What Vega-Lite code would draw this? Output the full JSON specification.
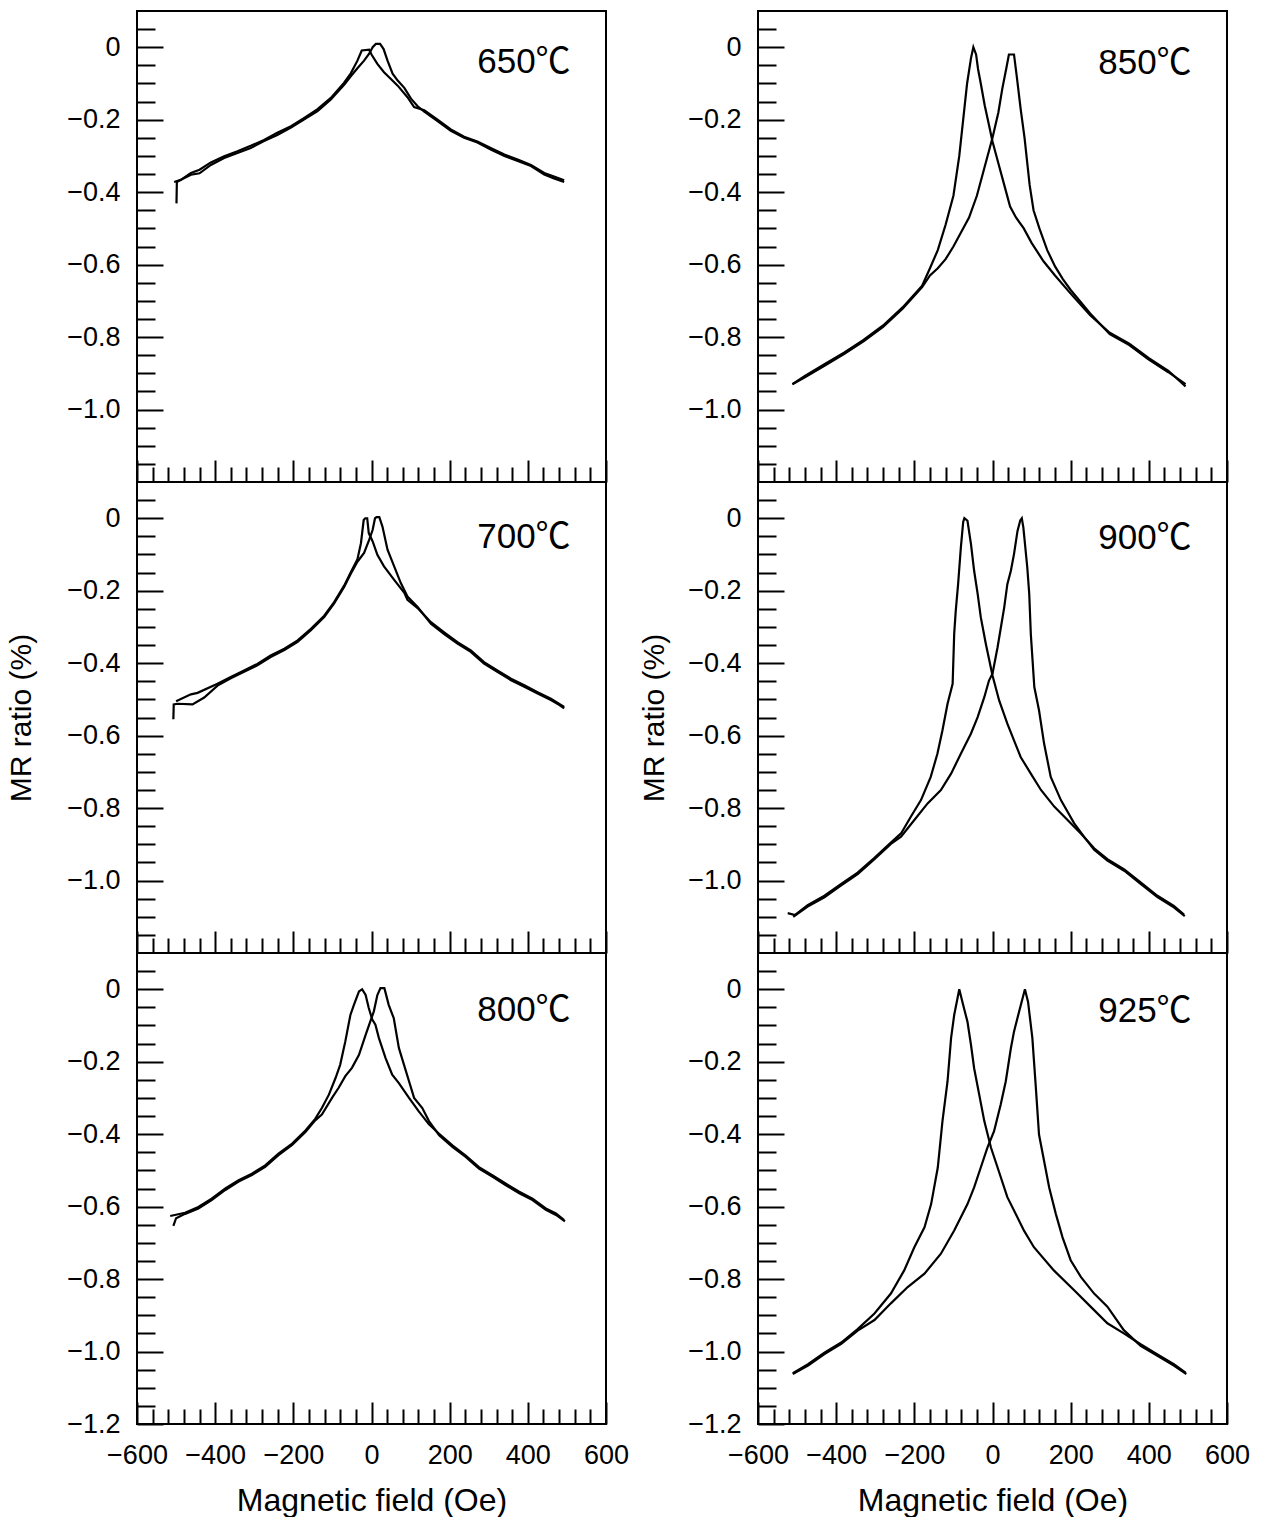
{
"$schema": "https://vega.github.io/schema/vega-lite/v6.json",
"background": "white",
"padding": {"left": 5, "top": 10, "right": 0, "bottom": 0},
"config": {
 "view": {"stroke": "black", "strokeWidth": 2},
 "axis": {"domain": false, "grid": false, "tickColor": "black", "tickWidth": 2, "labelColor": "black", "labelFont": "Liberation Sans", "labelFontSize": 27, "titleFont": "Liberation Sans", "titleFontSize": 30, "titleFontWeight": "normal", "titleColor": "black", "labelOverlap": false, "labelFlush": false, "labelBound": false}
},
"datasets": {
 "d650": [
  {"b":"A","H":-505,"MR":-0.372},{"b":"A","H":-488,"MR":-0.366},{"b":"A","H":-462,"MR":-0.347},{"b":"A","H":-440,"MR":-0.338},{"b":"A","H":-411,"MR":-0.318},{"b":"A","H":-377,"MR":-0.301},{"b":"A","H":-343,"MR":-0.287},{"b":"A","H":-309,"MR":-0.272},{"b":"A","H":-275,"MR":-0.256},{"b":"A","H":-241,"MR":-0.236},{"b":"A","H":-206,"MR":-0.218},{"b":"A","H":-172,"MR":-0.195},{"b":"A","H":-138,"MR":-0.171},{"b":"A","H":-104,"MR":-0.140},{"b":"A","H":-70,"MR":-0.098},{"b":"A","H":-53,"MR":-0.072},{"b":"A","H":-36,"MR":-0.037},{"b":"A","H":-25,"MR":-0.009},{"b":"A","H":-6,"MR":-0.007},{"b":"A","H":0,"MR":-0.020},{"b":"A","H":15,"MR":-0.046},{"b":"A","H":32,"MR":-0.069},{"b":"A","H":49,"MR":-0.087},{"b":"A","H":67,"MR":-0.106},{"b":"A","H":92,"MR":-0.138},{"b":"A","H":109,"MR":-0.165},{"b":"A","H":135,"MR":-0.174},{"b":"A","H":169,"MR":-0.200},{"b":"A","H":203,"MR":-0.227},{"b":"A","H":237,"MR":-0.247},{"b":"A","H":271,"MR":-0.260},{"b":"A","H":305,"MR":-0.278},{"b":"A","H":340,"MR":-0.296},{"b":"A","H":374,"MR":-0.310},{"b":"A","H":408,"MR":-0.325},{"b":"A","H":442,"MR":-0.347},{"b":"A","H":467,"MR":-0.357},{"b":"A","H":493,"MR":-0.367},
  {"b":"B","H":-499,"MR":-0.431},{"b":"B","H":-498,"MR":-0.372},{"b":"B","H":-480,"MR":-0.362},{"b":"B","H":-462,"MR":-0.352},{"b":"B","H":-440,"MR":-0.348},{"b":"B","H":-411,"MR":-0.325},{"b":"B","H":-377,"MR":-0.306},{"b":"B","H":-343,"MR":-0.292},{"b":"B","H":-309,"MR":-0.278},{"b":"B","H":-275,"MR":-0.259},{"b":"B","H":-241,"MR":-0.242},{"b":"B","H":-206,"MR":-0.222},{"b":"B","H":-172,"MR":-0.199},{"b":"B","H":-138,"MR":-0.176},{"b":"B","H":-104,"MR":-0.144},{"b":"B","H":-70,"MR":-0.104},{"b":"B","H":-53,"MR":-0.080},{"b":"B","H":-36,"MR":-0.058},{"b":"B","H":-19,"MR":-0.037},{"b":"B","H":-6,"MR":-0.018},{"b":"B","H":3,"MR":0.000},{"b":"B","H":11,"MR":0.009},{"b":"B","H":22,"MR":0.009},{"b":"B","H":31,"MR":-0.005},{"b":"B","H":41,"MR":-0.037},{"b":"B","H":54,"MR":-0.073},{"b":"B","H":67,"MR":-0.092},{"b":"B","H":84,"MR":-0.112},{"b":"B","H":101,"MR":-0.142},{"b":"B","H":118,"MR":-0.163},{"b":"B","H":135,"MR":-0.178},{"b":"B","H":169,"MR":-0.204},{"b":"B","H":203,"MR":-0.231},{"b":"B","H":237,"MR":-0.250},{"b":"B","H":271,"MR":-0.263},{"b":"B","H":305,"MR":-0.282},{"b":"B","H":340,"MR":-0.300},{"b":"B","H":374,"MR":-0.314},{"b":"B","H":408,"MR":-0.328},{"b":"B","H":442,"MR":-0.351},{"b":"B","H":467,"MR":-0.362},{"b":"B","H":493,"MR":-0.372}
 ],
 "d700": [
  {"b":"A","H":-500,"MR":-0.505},{"b":"A","H":-462,"MR":-0.486},{"b":"A","H":-445,"MR":-0.482},{"b":"A","H":-394,"MR":-0.457},{"b":"A","H":-360,"MR":-0.438},{"b":"A","H":-326,"MR":-0.420},{"b":"A","H":-292,"MR":-0.402},{"b":"A","H":-258,"MR":-0.379},{"b":"A","H":-223,"MR":-0.360},{"b":"A","H":-189,"MR":-0.337},{"b":"A","H":-155,"MR":-0.305},{"b":"A","H":-121,"MR":-0.269},{"b":"A","H":-96,"MR":-0.232},{"b":"A","H":-70,"MR":-0.186},{"b":"A","H":-53,"MR":-0.149},{"b":"A","H":-36,"MR":-0.113},{"b":"A","H":-27,"MR":-0.069},{"b":"A","H":-20,"MR":-0.005},{"b":"A","H":-16,"MR":0.000},{"b":"A","H":-11,"MR":0.000},{"b":"A","H":-7,"MR":-0.041},{"b":"A","H":3,"MR":-0.064},{"b":"A","H":15,"MR":-0.101},{"b":"A","H":32,"MR":-0.133},{"b":"A","H":58,"MR":-0.170},{"b":"A","H":84,"MR":-0.206},{"b":"A","H":92,"MR":-0.225},{"b":"A","H":118,"MR":-0.248},{"b":"A","H":152,"MR":-0.287},{"b":"A","H":186,"MR":-0.315},{"b":"A","H":220,"MR":-0.342},{"b":"A","H":254,"MR":-0.365},{"b":"A","H":288,"MR":-0.397},{"b":"A","H":322,"MR":-0.420},{"b":"A","H":357,"MR":-0.443},{"b":"A","H":391,"MR":-0.461},{"b":"A","H":425,"MR":-0.480},{"b":"A","H":459,"MR":-0.498},{"b":"A","H":493,"MR":-0.521},
  {"b":"B","H":-507,"MR":-0.555},{"b":"B","H":-506,"MR":-0.514},{"b":"B","H":-496,"MR":-0.512},{"b":"B","H":-458,"MR":-0.514},{"b":"B","H":-428,"MR":-0.495},{"b":"B","H":-394,"MR":-0.462},{"b":"B","H":-360,"MR":-0.442},{"b":"B","H":-326,"MR":-0.424},{"b":"B","H":-292,"MR":-0.406},{"b":"B","H":-258,"MR":-0.383},{"b":"B","H":-223,"MR":-0.364},{"b":"B","H":-189,"MR":-0.341},{"b":"B","H":-155,"MR":-0.309},{"b":"B","H":-121,"MR":-0.273},{"b":"B","H":-96,"MR":-0.236},{"b":"B","H":-70,"MR":-0.190},{"b":"B","H":-53,"MR":-0.153},{"b":"B","H":-36,"MR":-0.120},{"b":"B","H":-19,"MR":-0.096},{"b":"B","H":-6,"MR":-0.060},{"b":"B","H":3,"MR":-0.032},{"b":"B","H":9,"MR":0.000},{"b":"B","H":13,"MR":0.003},{"b":"B","H":20,"MR":0.003},{"b":"B","H":28,"MR":-0.023},{"b":"B","H":41,"MR":-0.087},{"b":"B","H":58,"MR":-0.133},{"b":"B","H":75,"MR":-0.179},{"b":"B","H":92,"MR":-0.216},{"b":"B","H":118,"MR":-0.245},{"b":"B","H":152,"MR":-0.291},{"b":"B","H":186,"MR":-0.320},{"b":"B","H":220,"MR":-0.346},{"b":"B","H":254,"MR":-0.369},{"b":"B","H":288,"MR":-0.401},{"b":"B","H":322,"MR":-0.424},{"b":"B","H":357,"MR":-0.447},{"b":"B","H":391,"MR":-0.465},{"b":"B","H":425,"MR":-0.484},{"b":"B","H":459,"MR":-0.502},{"b":"B","H":480,"MR":-0.515},{"b":"B","H":493,"MR":-0.525}
 ],
 "d800": [
  {"b":"A","H":-515,"MR":-0.626},{"b":"A","H":-477,"MR":-0.617},{"b":"A","H":-443,"MR":-0.601},{"b":"A","H":-409,"MR":-0.578},{"b":"A","H":-374,"MR":-0.550},{"b":"A","H":-340,"MR":-0.527},{"b":"A","H":-306,"MR":-0.509},{"b":"A","H":-272,"MR":-0.486},{"b":"A","H":-238,"MR":-0.454},{"b":"A","H":-203,"MR":-0.426},{"b":"A","H":-169,"MR":-0.390},{"b":"A","H":-144,"MR":-0.358},{"b":"A","H":-127,"MR":-0.328},{"b":"A","H":-109,"MR":-0.291},{"b":"A","H":-92,"MR":-0.245},{"b":"A","H":-80,"MR":-0.208},{"b":"A","H":-67,"MR":-0.144},{"b":"A","H":-54,"MR":-0.071},{"b":"A","H":-45,"MR":-0.043},{"b":"A","H":-32,"MR":-0.006},{"b":"A","H":-24,"MR":0.000},{"b":"A","H":-15,"MR":-0.016},{"b":"A","H":-7,"MR":-0.052},{"b":"A","H":2,"MR":-0.084},{"b":"A","H":10,"MR":-0.098},{"b":"A","H":19,"MR":-0.135},{"b":"A","H":36,"MR":-0.190},{"b":"A","H":53,"MR":-0.236},{"b":"A","H":70,"MR":-0.259},{"b":"A","H":96,"MR":-0.300},{"b":"A","H":121,"MR":-0.337},{"b":"A","H":147,"MR":-0.373},{"b":"A","H":173,"MR":-0.399},{"b":"A","H":207,"MR":-0.431},{"b":"A","H":241,"MR":-0.459},{"b":"A","H":275,"MR":-0.491},{"b":"A","H":310,"MR":-0.514},{"b":"A","H":344,"MR":-0.537},{"b":"A","H":378,"MR":-0.559},{"b":"A","H":412,"MR":-0.578},{"b":"A","H":446,"MR":-0.605},{"b":"A","H":472,"MR":-0.619},{"b":"A","H":493,"MR":-0.637},
  {"b":"B","H":-507,"MR":-0.653},{"b":"B","H":-500,"MR":-0.632},{"b":"B","H":-477,"MR":-0.620},{"b":"B","H":-443,"MR":-0.605},{"b":"B","H":-409,"MR":-0.582},{"b":"B","H":-374,"MR":-0.554},{"b":"B","H":-340,"MR":-0.531},{"b":"B","H":-306,"MR":-0.513},{"b":"B","H":-272,"MR":-0.490},{"b":"B","H":-238,"MR":-0.458},{"b":"B","H":-203,"MR":-0.430},{"b":"B","H":-169,"MR":-0.394},{"b":"B","H":-144,"MR":-0.362},{"b":"B","H":-127,"MR":-0.346},{"b":"B","H":-101,"MR":-0.300},{"b":"B","H":-84,"MR":-0.272},{"b":"B","H":-67,"MR":-0.240},{"b":"B","H":-50,"MR":-0.217},{"b":"B","H":-32,"MR":-0.181},{"b":"B","H":-15,"MR":-0.126},{"b":"B","H":-3,"MR":-0.089},{"b":"B","H":6,"MR":-0.061},{"b":"B","H":15,"MR":-0.016},{"b":"B","H":23,"MR":0.003},{"b":"B","H":33,"MR":0.003},{"b":"B","H":44,"MR":-0.043},{"b":"B","H":57,"MR":-0.080},{"b":"B","H":70,"MR":-0.162},{"b":"B","H":83,"MR":-0.208},{"b":"B","H":96,"MR":-0.254},{"b":"B","H":109,"MR":-0.300},{"b":"B","H":130,"MR":-0.328},{"b":"B","H":147,"MR":-0.364},{"b":"B","H":173,"MR":-0.403},{"b":"B","H":207,"MR":-0.435},{"b":"B","H":241,"MR":-0.463},{"b":"B","H":275,"MR":-0.495},{"b":"B","H":310,"MR":-0.518},{"b":"B","H":344,"MR":-0.541},{"b":"B","H":378,"MR":-0.563},{"b":"B","H":412,"MR":-0.582},{"b":"B","H":446,"MR":-0.609},{"b":"B","H":472,"MR":-0.623},{"b":"B","H":495,"MR":-0.641}
 ],
 "d850": [
  {"b":"A","H":-512,"MR":-0.930},{"b":"A","H":-480,"MR":-0.907},{"b":"A","H":-430,"MR":-0.875},{"b":"A","H":-380,"MR":-0.843},{"b":"A","H":-330,"MR":-0.808},{"b":"A","H":-280,"MR":-0.768},{"b":"A","H":-230,"MR":-0.718},{"b":"A","H":-180,"MR":-0.658},{"b":"A","H":-160,"MR":-0.610},{"b":"A","H":-140,"MR":-0.560},{"b":"A","H":-120,"MR":-0.490},{"b":"A","H":-100,"MR":-0.410},{"b":"A","H":-85,"MR":-0.300},{"b":"A","H":-75,"MR":-0.200},{"b":"A","H":-65,"MR":-0.100},{"b":"A","H":-55,"MR":-0.030},{"b":"A","H":-49,"MR":0.000},{"b":"A","H":-42,"MR":-0.020},{"b":"A","H":-37,"MR":-0.060},{"b":"A","H":-30,"MR":-0.100},{"b":"A","H":-20,"MR":-0.160},{"b":"A","H":-10,"MR":-0.210},{"b":"A","H":0,"MR":-0.260},{"b":"A","H":15,"MR":-0.320},{"b":"A","H":30,"MR":-0.380},{"b":"A","H":45,"MR":-0.440},{"b":"A","H":60,"MR":-0.470},{"b":"A","H":80,"MR":-0.500},{"b":"A","H":100,"MR":-0.540},{"b":"A","H":130,"MR":-0.590},{"b":"A","H":160,"MR":-0.630},{"b":"A","H":200,"MR":-0.680},{"b":"A","H":250,"MR":-0.740},{"b":"A","H":300,"MR":-0.788},{"b":"A","H":350,"MR":-0.818},{"b":"A","H":400,"MR":-0.858},{"b":"A","H":450,"MR":-0.893},{"b":"A","H":494,"MR":-0.936},
  {"b":"B","H":-512,"MR":-0.930},{"b":"B","H":-480,"MR":-0.911},{"b":"B","H":-430,"MR":-0.879},{"b":"B","H":-380,"MR":-0.847},{"b":"B","H":-330,"MR":-0.812},{"b":"B","H":-280,"MR":-0.772},{"b":"B","H":-230,"MR":-0.722},{"b":"B","H":-180,"MR":-0.662},{"b":"B","H":-160,"MR":-0.630},{"b":"B","H":-140,"MR":-0.610},{"b":"B","H":-120,"MR":-0.585},{"b":"B","H":-100,"MR":-0.550},{"b":"B","H":-80,"MR":-0.510},{"b":"B","H":-60,"MR":-0.470},{"b":"B","H":-40,"MR":-0.410},{"b":"B","H":-20,"MR":-0.330},{"b":"B","H":0,"MR":-0.250},{"b":"B","H":15,"MR":-0.180},{"b":"B","H":25,"MR":-0.115},{"b":"B","H":35,"MR":-0.060},{"b":"B","H":42,"MR":-0.020},{"b":"B","H":55,"MR":-0.020},{"b":"B","H":62,"MR":-0.080},{"b":"B","H":72,"MR":-0.170},{"b":"B","H":82,"MR":-0.250},{"b":"B","H":95,"MR":-0.380},{"b":"B","H":105,"MR":-0.450},{"b":"B","H":120,"MR":-0.500},{"b":"B","H":140,"MR":-0.560},{"b":"B","H":160,"MR":-0.605},{"b":"B","H":180,"MR":-0.640},{"b":"B","H":200,"MR":-0.670},{"b":"B","H":250,"MR":-0.735},{"b":"B","H":300,"MR":-0.792},{"b":"B","H":350,"MR":-0.822},{"b":"B","H":400,"MR":-0.862},{"b":"B","H":450,"MR":-0.897},{"b":"B","H":494,"MR":-0.930}
 ],
 "d900": [
  {"b":"A","H":-524,"MR":-1.090},{"b":"A","H":-505,"MR":-1.095},{"b":"A","H":-473,"MR":-1.068},{"b":"A","H":-430,"MR":-1.042},{"b":"A","H":-388,"MR":-1.010},{"b":"A","H":-345,"MR":-0.978},{"b":"A","H":-302,"MR":-0.937},{"b":"A","H":-260,"MR":-0.895},{"b":"A","H":-234,"MR":-0.870},{"b":"A","H":-209,"MR":-0.824},{"b":"A","H":-183,"MR":-0.778},{"b":"A","H":-158,"MR":-0.714},{"b":"A","H":-141,"MR":-0.650},{"b":"A","H":-128,"MR":-0.585},{"b":"A","H":-115,"MR":-0.512},{"b":"A","H":-102,"MR":-0.457},{"b":"A","H":-98,"MR":-0.319},{"b":"A","H":-94,"MR":-0.255},{"b":"A","H":-88,"MR":-0.182},{"b":"A","H":-81,"MR":-0.081},{"b":"A","H":-75,"MR":-0.010},{"b":"A","H":-72,"MR":0.000},{"b":"A","H":-64,"MR":-0.007},{"b":"A","H":-55,"MR":-0.072},{"b":"A","H":-47,"MR":-0.145},{"b":"A","H":-38,"MR":-0.209},{"b":"A","H":-30,"MR":-0.273},{"b":"A","H":-17,"MR":-0.347},{"b":"A","H":0,"MR":-0.434},{"b":"A","H":17,"MR":-0.503},{"b":"A","H":38,"MR":-0.567},{"b":"A","H":55,"MR":-0.613},{"b":"A","H":72,"MR":-0.659},{"b":"A","H":98,"MR":-0.705},{"b":"A","H":124,"MR":-0.750},{"b":"A","H":158,"MR":-0.796},{"b":"A","H":192,"MR":-0.833},{"b":"A","H":226,"MR":-0.870},{"b":"A","H":260,"MR":-0.911},{"b":"A","H":294,"MR":-0.941},{"b":"A","H":337,"MR":-0.969},{"b":"A","H":379,"MR":-1.005},{"b":"A","H":422,"MR":-1.042},{"b":"A","H":464,"MR":-1.070},{"b":"A","H":490,"MR":-1.094},
  {"b":"B","H":-510,"MR":-1.100},{"b":"B","H":-473,"MR":-1.072},{"b":"B","H":-430,"MR":-1.046},{"b":"B","H":-388,"MR":-1.014},{"b":"B","H":-345,"MR":-0.982},{"b":"B","H":-302,"MR":-0.941},{"b":"B","H":-260,"MR":-0.899},{"b":"B","H":-234,"MR":-0.879},{"b":"B","H":-200,"MR":-0.833},{"b":"B","H":-166,"MR":-0.787},{"b":"B","H":-132,"MR":-0.750},{"b":"B","H":-106,"MR":-0.705},{"b":"B","H":-81,"MR":-0.650},{"b":"B","H":-55,"MR":-0.594},{"b":"B","H":-38,"MR":-0.549},{"b":"B","H":-21,"MR":-0.494},{"b":"B","H":-9,"MR":-0.448},{"b":"B","H":0,"MR":-0.429},{"b":"B","H":13,"MR":-0.356},{"b":"B","H":30,"MR":-0.246},{"b":"B","H":38,"MR":-0.182},{"b":"B","H":47,"MR":-0.145},{"b":"B","H":55,"MR":-0.099},{"b":"B","H":64,"MR":-0.035},{"b":"B","H":71,"MR":-0.006},{"b":"B","H":75,"MR":0.000},{"b":"B","H":79,"MR":-0.026},{"b":"B","H":89,"MR":-0.136},{"b":"B","H":94,"MR":-0.209},{"b":"B","H":98,"MR":-0.319},{"b":"B","H":107,"MR":-0.466},{"b":"B","H":119,"MR":-0.530},{"b":"B","H":132,"MR":-0.622},{"b":"B","H":149,"MR":-0.714},{"b":"B","H":175,"MR":-0.778},{"b":"B","H":209,"MR":-0.842},{"b":"B","H":234,"MR":-0.879},{"b":"B","H":260,"MR":-0.915},{"b":"B","H":294,"MR":-0.945},{"b":"B","H":337,"MR":-0.973},{"b":"B","H":379,"MR":-1.009},{"b":"B","H":422,"MR":-1.046},{"b":"B","H":464,"MR":-1.074},{"b":"B","H":492,"MR":-1.098}
 ],
 "d925": [
  {"b":"A","H":-511,"MR":-1.060},{"b":"A","H":-472,"MR":-1.035},{"b":"A","H":-430,"MR":-1.003},{"b":"A","H":-387,"MR":-0.975},{"b":"A","H":-345,"MR":-0.938},{"b":"A","H":-302,"MR":-0.895},{"b":"A","H":-260,"MR":-0.840},{"b":"A","H":-226,"MR":-0.776},{"b":"A","H":-200,"MR":-0.712},{"b":"A","H":-174,"MR":-0.657},{"b":"A","H":-157,"MR":-0.593},{"b":"A","H":-140,"MR":-0.492},{"b":"A","H":-128,"MR":-0.364},{"b":"A","H":-115,"MR":-0.254},{"b":"A","H":-106,"MR":-0.135},{"b":"A","H":-98,"MR":-0.071},{"b":"A","H":-85,"MR":0.000},{"b":"A","H":-77,"MR":-0.035},{"b":"A","H":-64,"MR":-0.090},{"b":"A","H":-55,"MR":-0.154},{"b":"A","H":-47,"MR":-0.218},{"b":"A","H":-34,"MR":-0.291},{"b":"A","H":-21,"MR":-0.364},{"b":"A","H":-4,"MR":-0.437},{"b":"A","H":13,"MR":-0.492},{"b":"A","H":38,"MR":-0.574},{"b":"A","H":81,"MR":-0.667},{"b":"A","H":106,"MR":-0.712},{"b":"A","H":157,"MR":-0.776},{"b":"A","H":209,"MR":-0.831},{"b":"A","H":251,"MR":-0.876},{"b":"A","H":294,"MR":-0.922},{"b":"A","H":336,"MR":-0.950},{"b":"A","H":379,"MR":-0.980},{"b":"A","H":421,"MR":-1.007},{"b":"A","H":464,"MR":-1.035},{"b":"A","H":494,"MR":-1.058},
  {"b":"B","H":-511,"MR":-1.062},{"b":"B","H":-472,"MR":-1.039},{"b":"B","H":-430,"MR":-1.007},{"b":"B","H":-387,"MR":-0.979},{"b":"B","H":-345,"MR":-0.942},{"b":"B","H":-302,"MR":-0.913},{"b":"B","H":-260,"MR":-0.867},{"b":"B","H":-217,"MR":-0.822},{"b":"B","H":-174,"MR":-0.785},{"b":"B","H":-132,"MR":-0.730},{"b":"B","H":-98,"MR":-0.666},{"b":"B","H":-64,"MR":-0.593},{"b":"B","H":-47,"MR":-0.547},{"b":"B","H":-30,"MR":-0.492},{"b":"B","H":-13,"MR":-0.437},{"b":"B","H":4,"MR":-0.392},{"b":"B","H":21,"MR":-0.318},{"b":"B","H":34,"MR":-0.254},{"b":"B","H":47,"MR":-0.163},{"b":"B","H":55,"MR":-0.117},{"b":"B","H":68,"MR":-0.062},{"b":"B","H":83,"MR":0.000},{"b":"B","H":91,"MR":-0.035},{"b":"B","H":102,"MR":-0.135},{"b":"B","H":111,"MR":-0.273},{"b":"B","H":119,"MR":-0.401},{"b":"B","H":132,"MR":-0.474},{"b":"B","H":145,"MR":-0.547},{"b":"B","H":162,"MR":-0.620},{"b":"B","H":179,"MR":-0.684},{"b":"B","H":200,"MR":-0.748},{"b":"B","H":226,"MR":-0.794},{"b":"B","H":260,"MR":-0.840},{"b":"B","H":294,"MR":-0.876},{"b":"B","H":336,"MR":-0.941},{"b":"B","H":379,"MR":-0.984},{"b":"B","H":421,"MR":-1.011},{"b":"B","H":464,"MR":-1.039},{"b":"B","H":496,"MR":-1.062}
 ]
},
"concat": [
 {"width": 469, "height": 471, "layer": [
  {"data": {"name": "d650"}, "mark": {"type": "line", "color": "black", "strokeWidth": 2.2},
   "encoding": {
    "x": {"field": "H", "type": "quantitative", "scale": {"domain": [-600, 600], "nice": false, "zero": false}, "axis": {"title": null, "labels": false, "tickCount": 200, "values": [-600,-560,-520,-480,-440,-400,-360,-320,-280,-240,-200,-160,-120,-80,-40,0,40,80,120,160,200,240,280,320,360,400,440,480,520,560,600], "tickSize": {"condition": {"test": "datum.value % 200 === 0", "value": -22}, "value": -15}}},
    "y": {"field": "MR", "type": "quantitative", "scale": {"domain": [-1.2, 0.1], "nice": false, "zero": false}, "axis": {"title": null, "tickCount": 200, "values": [-1.15,-1.1,-1.05,-1,-0.95,-0.9,-0.85,-0.8,-0.75,-0.7,-0.65,-0.6,-0.55,-0.5,-0.45,-0.4,-0.35,-0.3,-0.25,-0.2,-0.15,-0.1,-0.05,0,0.05], "tickSize": {"condition": {"test": "abs(datum.value*5 - round(datum.value*5)) < 1e-6", "value": -26}, "value": -18}, "labelPadding": 43, "labelExpr": "abs(datum.value*5 - round(datum.value*5)) < 1e-6 ? (datum.value === 0 ? '0' : format(datum.value, '.1f')) : ''"}},
    "detail": {"field": "b", "type": "nominal"}}},
  {"data": {"values": [{"T": "650℃"}]}, "mark": {"type": "text", "fontSize": 35, "font": "Liberation Sans, Noto Sans CJK JP", "align": "center", "baseline": "alphabetic", "color": "black"},
   "encoding": {"x": {"datum": 390, "type": "quantitative"}, "y": {"datum": -0.07, "type": "quantitative"}, "text": {"field": "T"}}}
 ]},
 {"width": 469, "height": 471, "layer": [
  {"data": {"name": "d850"}, "mark": {"type": "line", "color": "black", "strokeWidth": 2.2},
   "encoding": {
    "x": {"field": "H", "type": "quantitative", "scale": {"domain": [-600, 600], "nice": false, "zero": false}, "axis": {"title": null, "labels": false, "tickCount": 200, "values": [-600,-560,-520,-480,-440,-400,-360,-320,-280,-240,-200,-160,-120,-80,-40,0,40,80,120,160,200,240,280,320,360,400,440,480,520,560,600], "tickSize": {"condition": {"test": "datum.value % 200 === 0", "value": -22}, "value": -15}}},
    "y": {"field": "MR", "type": "quantitative", "scale": {"domain": [-1.2, 0.1], "nice": false, "zero": false}, "axis": {"title": null, "tickCount": 200, "values": [-1.15,-1.1,-1.05,-1,-0.95,-0.9,-0.85,-0.8,-0.75,-0.7,-0.65,-0.6,-0.55,-0.5,-0.45,-0.4,-0.35,-0.3,-0.25,-0.2,-0.15,-0.1,-0.05,0,0.05], "tickSize": {"condition": {"test": "abs(datum.value*5 - round(datum.value*5)) < 1e-6", "value": -26}, "value": -18}, "labelPadding": 43, "labelExpr": "abs(datum.value*5 - round(datum.value*5)) < 1e-6 ? (datum.value === 0 ? '0' : format(datum.value, '.1f')) : ''"}},
    "detail": {"field": "b", "type": "nominal"}}},
  {"data": {"values": [{"T": "850℃"}]}, "mark": {"type": "text", "fontSize": 35, "font": "Liberation Sans, Noto Sans CJK JP", "align": "center", "baseline": "alphabetic", "color": "black"},
   "encoding": {"x": {"datum": 390, "type": "quantitative"}, "y": {"datum": -0.075, "type": "quantitative"}, "text": {"field": "T"}}}
 ]},
 {"width": 469, "height": 471, "layer": [
  {"data": {"name": "d700"}, "mark": {"type": "line", "color": "black", "strokeWidth": 2.2},
   "encoding": {
    "x": {"field": "H", "type": "quantitative", "scale": {"domain": [-600, 600], "nice": false, "zero": false}, "axis": {"title": null, "labels": false, "tickCount": 200, "values": [-600,-560,-520,-480,-440,-400,-360,-320,-280,-240,-200,-160,-120,-80,-40,0,40,80,120,160,200,240,280,320,360,400,440,480,520,560,600], "tickSize": {"condition": {"test": "datum.value % 200 === 0", "value": -22}, "value": -15}}},
    "y": {"field": "MR", "type": "quantitative", "scale": {"domain": [-1.2, 0.1], "nice": false, "zero": false}, "axis": {"title": "MR ratio (%)", "titlePadding": 30, "tickCount": 200, "values": [-1.15,-1.1,-1.05,-1,-0.95,-0.9,-0.85,-0.8,-0.75,-0.7,-0.65,-0.6,-0.55,-0.5,-0.45,-0.4,-0.35,-0.3,-0.25,-0.2,-0.15,-0.1,-0.05,0,0.05], "tickSize": {"condition": {"test": "abs(datum.value*5 - round(datum.value*5)) < 1e-6", "value": -26}, "value": -18}, "labelPadding": 43, "labelExpr": "abs(datum.value*5 - round(datum.value*5)) < 1e-6 ? (datum.value === 0 ? '0' : format(datum.value, '.1f')) : ''"}},
    "detail": {"field": "b", "type": "nominal"}}},
  {"data": {"values": [{"T": "700℃"}]}, "mark": {"type": "text", "fontSize": 35, "font": "Liberation Sans, Noto Sans CJK JP", "align": "center", "baseline": "alphabetic", "color": "black"},
   "encoding": {"x": {"datum": 390, "type": "quantitative"}, "y": {"datum": -0.083, "type": "quantitative"}, "text": {"field": "T"}}}
 ]},
 {"width": 469, "height": 471, "layer": [
  {"data": {"name": "d900"}, "mark": {"type": "line", "color": "black", "strokeWidth": 2.2},
   "encoding": {
    "x": {"field": "H", "type": "quantitative", "scale": {"domain": [-600, 600], "nice": false, "zero": false}, "axis": {"title": null, "labels": false, "tickCount": 200, "values": [-600,-560,-520,-480,-440,-400,-360,-320,-280,-240,-200,-160,-120,-80,-40,0,40,80,120,160,200,240,280,320,360,400,440,480,520,560,600], "tickSize": {"condition": {"test": "datum.value % 200 === 0", "value": -22}, "value": -15}}},
    "y": {"field": "MR", "type": "quantitative", "scale": {"domain": [-1.2, 0.1], "nice": false, "zero": false}, "axis": {"title": "MR ratio (%)", "titlePadding": 18, "tickCount": 200, "values": [-1.15,-1.1,-1.05,-1,-0.95,-0.9,-0.85,-0.8,-0.75,-0.7,-0.65,-0.6,-0.55,-0.5,-0.45,-0.4,-0.35,-0.3,-0.25,-0.2,-0.15,-0.1,-0.05,0,0.05], "tickSize": {"condition": {"test": "abs(datum.value*5 - round(datum.value*5)) < 1e-6", "value": -26}, "value": -18}, "labelPadding": 43, "labelExpr": "abs(datum.value*5 - round(datum.value*5)) < 1e-6 ? (datum.value === 0 ? '0' : format(datum.value, '.1f')) : ''"}},
    "detail": {"field": "b", "type": "nominal"}}},
  {"data": {"values": [{"T": "900℃"}]}, "mark": {"type": "text", "fontSize": 35, "font": "Liberation Sans, Noto Sans CJK JP", "align": "center", "baseline": "alphabetic", "color": "black"},
   "encoding": {"x": {"datum": 390, "type": "quantitative"}, "y": {"datum": -0.085, "type": "quantitative"}, "text": {"field": "T"}}}
 ]},
 {"width": 469, "height": 471, "layer": [
  {"data": {"name": "d800"}, "mark": {"type": "line", "color": "black", "strokeWidth": 2.2},
   "encoding": {
    "x": {"field": "H", "type": "quantitative", "scale": {"domain": [-600, 600], "nice": false, "zero": false}, "axis": {"title": "Magnetic field (Oe)", "titleFontSize": 32, "titlePadding": 10, "labelPadding": 40, "tickCount": 200, "labelExpr": "datum.value % 200 === 0 ? format(datum.value, 'd') : ''", "values": [-600,-560,-520,-480,-440,-400,-360,-320,-280,-240,-200,-160,-120,-80,-40,0,40,80,120,160,200,240,280,320,360,400,440,480,520,560,600], "tickSize": {"condition": {"test": "datum.value % 200 === 0", "value": -22}, "value": -15}}},
    "y": {"field": "MR", "type": "quantitative", "scale": {"domain": [-1.2, 0.1], "nice": false, "zero": false}, "axis": {"title": null, "tickCount": 200, "values": [-1.2,-1.15,-1.1,-1.05,-1,-0.95,-0.9,-0.85,-0.8,-0.75,-0.7,-0.65,-0.6,-0.55,-0.5,-0.45,-0.4,-0.35,-0.3,-0.25,-0.2,-0.15,-0.1,-0.05,0,0.05], "tickSize": {"condition": {"test": "abs(datum.value*5 - round(datum.value*5)) < 1e-6", "value": -26}, "value": -18}, "labelPadding": 43, "labelExpr": "abs(datum.value*5 - round(datum.value*5)) < 1e-6 ? (datum.value === 0 ? '0' : format(datum.value, '.1f')) : ''"}},
    "detail": {"field": "b", "type": "nominal"}}},
  {"data": {"values": [{"T": "800℃"}]}, "mark": {"type": "text", "fontSize": 35, "font": "Liberation Sans, Noto Sans CJK JP", "align": "center", "baseline": "alphabetic", "color": "black"},
   "encoding": {"x": {"datum": 390, "type": "quantitative"}, "y": {"datum": -0.087, "type": "quantitative"}, "text": {"field": "T"}}}
 ]},
 {"width": 469, "height": 471, "layer": [
  {"data": {"name": "d925"}, "mark": {"type": "line", "color": "black", "strokeWidth": 2.2},
   "encoding": {
    "x": {"field": "H", "type": "quantitative", "scale": {"domain": [-600, 600], "nice": false, "zero": false}, "axis": {"title": "Magnetic field (Oe)", "titleFontSize": 32, "titlePadding": 10, "labelPadding": 40, "tickCount": 200, "labelExpr": "datum.value % 200 === 0 ? format(datum.value, 'd') : ''", "values": [-600,-560,-520,-480,-440,-400,-360,-320,-280,-240,-200,-160,-120,-80,-40,0,40,80,120,160,200,240,280,320,360,400,440,480,520,560,600], "tickSize": {"condition": {"test": "datum.value % 200 === 0", "value": -22}, "value": -15}}},
    "y": {"field": "MR", "type": "quantitative", "scale": {"domain": [-1.2, 0.1], "nice": false, "zero": false}, "axis": {"title": null, "tickCount": 200, "values": [-1.2,-1.15,-1.1,-1.05,-1,-0.95,-0.9,-0.85,-0.8,-0.75,-0.7,-0.65,-0.6,-0.55,-0.5,-0.45,-0.4,-0.35,-0.3,-0.25,-0.2,-0.15,-0.1,-0.05,0,0.05], "tickSize": {"condition": {"test": "abs(datum.value*5 - round(datum.value*5)) < 1e-6", "value": -26}, "value": -18}, "labelPadding": 43, "labelExpr": "abs(datum.value*5 - round(datum.value*5)) < 1e-6 ? (datum.value === 0 ? '0' : format(datum.value, '.1f')) : ''"}},
    "detail": {"field": "b", "type": "nominal"}}},
  {"data": {"values": [{"T": "925℃"}]}, "mark": {"type": "text", "fontSize": 35, "font": "Liberation Sans, Noto Sans CJK JP", "align": "center", "baseline": "alphabetic", "color": "black"},
   "encoding": {"x": {"datum": 390, "type": "quantitative"}, "y": {"datum": -0.09, "type": "quantitative"}, "text": {"field": "T"}}}
 ]}
],
"columns": 2,
"spacing": {"row": 0, "column": 152},
"bounds": "flush"
}
